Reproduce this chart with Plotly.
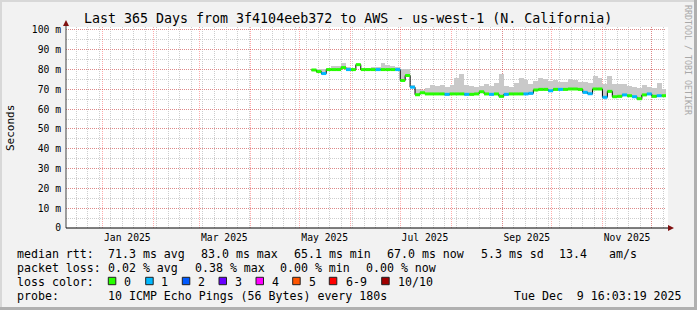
import plotly.graph_objects as go
import pandas as pd

# ---------------- data ----------------
bin_start = "2025-05-08"
bin_days = 3
median_ms = [79.8, 79.0, 78.0, 80.0, 80.0, 80.0, 81.0, 80.0, 80.0, 82.5,
             80.0, 80.0, 80.0, 80.0, 80.0, 80.0, 80.0, 80.0, 74.5, 77.0,
             71.1, 67.3, 68.3, 67.7, 67.7, 67.7, 67.7, 67.5, 67.7, 67.7,
             67.7, 67.5, 67.5, 67.7, 68.8, 67.7, 67.5, 67.7, 66.5, 67.5,
             67.7, 67.7, 67.7, 67.7, 68.0, 69.7, 70.0, 70.0, 69.3, 70.0,
             70.0, 70.0, 70.2, 70.2, 70.0, 68.5, 67.8, 70.2, 70.2, 66.0,
             69.0, 66.3, 66.5, 67.2, 66.8, 66.3, 65.3, 67.2, 67.7, 66.5,
             66.8, 66.8]
smoke_top_ms = [80.3, 80.3, 80.5, 80.8, 81.7, 82.0, 83.5, 81.5, 81.0, 82.8,
                80.8, 81.0, 81.2, 81.5, 83.5, 82.3, 82.0, 81.5, 80.3, 80.3,
                72.0, 70.0, 69.5, 70.5, 72.0, 71.5, 72.3, 71.0, 72.0, 75.5,
                78.0, 72.0, 71.5, 71.0, 71.5, 72.5, 71.5, 73.0, 77.8, 71.5,
                71.0, 73.0, 75.5, 74.5, 72.5, 74.0, 76.0, 75.0, 74.0, 74.5,
                73.5, 73.5, 75.0, 74.5, 73.5, 73.5, 73.0, 77.0, 76.0, 72.5,
                77.0, 72.5, 72.8, 72.5, 71.5, 71.0, 70.5, 72.0, 71.0, 70.5,
                73.0, 70.0]
loss_count = [0, 0, 1, 0, 0, 0, 0, 1, 0, 0,
              0, 0, 0, 1, 0, 0, 0, 1, 0, 0,
              1, 0, 0, 0, 0, 0, 0, 1, 0, 0,
              0, 1, 0, 0, 0, 0, 1, 0, 0, 1,
              0, 0, 0, 1, 1, 0, 0, 0, 1, 0,
              1, 0, 0, 0, 0, 1, 1, 0, 0, 1,
              0, 0, 0, 1, 0, 1, 0, 0, 1, 0,
              1, 0]

x_start = "2024-12-09 16:03:19"
x_end = "2025-12-09 16:03:19"
month_ticks = ["2025-01-01", "2025-02-01", "2025-03-01", "2025-04-01", "2025-05-01",
               "2025-06-01", "2025-07-01", "2025-08-01", "2025-09-01", "2025-10-01",
               "2025-11-01", "2025-12-01"]
label_ticks = ["2025-01-16", "2025-03-16", "2025-05-16", "2025-07-16", "2025-09-16", "2025-11-16"]
label_text = ["Jan 2025", "Mar 2025", "May 2025", "Jul 2025", "Sep 2025", "Nov 2025"]
y_ticks = [0, 10, 20, 30, 40, 50, 60, 70, 80, 90, 100]
y_text = ["0", "10 m", "20 m", "30 m", "40 m", "50 m", "60 m", "70 m", "80 m", "90 m", "100 m"]

loss_labels = ["0", "1", "2", "3", "4", "5", "6-9", "10/10"]
loss_colors = ["#26ff00", "#00b8ff", "#0059ff", "#6a00ff", "#ff00ff", "#ff5500", "#ff0000", "#a10000"]

title_text = "Last 365 Days from 3f4104eeb372 to AWS - us-west-1 (N. California)"
legend_rtt = ["median rtt:", "71.3 ms avg", "83.0 ms max", "65.1 ms min", "67.0 ms now", "5.3 ms sd", "13.4", "am/s"]
legend_loss = ["packet loss:", "0.02 % avg", "0.38 % max", "0.00 % min", "0.00 % now"]
legend_probe = ["probe:", "10 ICMP Echo Pings (56 Bytes) every 180s", "Tue Dec\u00a0 9 16:03:19 2025"]

# ---------------- geometry helpers ----------------
W, H = 697, 310
L, R, T, B = 66, 666, 27, 228
PW, PH = R - L, B - T
FONT = "DejaVu Sans Mono"


def px(X):
    return (X - L) / PW


def py(Y):
    return (B - Y) / PH


starts = pd.date_range(bin_start, periods=len(median_ms), freq=f"{bin_days}D")
step = pd.Timedelta(days=bin_days)
centers = starts + step / 2

fig = go.Figure()

# smoke
low = [m - 0.6 for m in median_ms]
fig.add_trace(go.Bar(
    x=centers, base=low, y=[t - lo for t, lo in zip(smoke_top_ms, low)],
    width=bin_days * 86400000, marker=dict(color="#c9c9c9", line=dict(width=0)),
    showlegend=False, hoverinfo="skip"))

# black median step line
fig.add_trace(go.Scatter(
    x=list(starts) + [starts[-1] + step], y=median_ms + [median_ms[-1]],
    mode="lines", line=dict(color="#000000", width=1, shape="hv"),
    showlegend=False, hoverinfo="skip"))

# coloured median segments by loss
for lvl in sorted(set(loss_count)):
    xs, ys = [], []
    for s, m, lc in zip(starts, median_ms, loss_count):
        if lc == lvl:
            xs += [s, s + step, None]
            ys += [m, m, None]
    fig.add_trace(go.Scatter(x=xs, y=ys, mode="lines",
                             line=dict(color=loss_colors[lvl], width=3),
                             showlegend=False, hoverinfo="skip"))

# dummy trace for label axis
fig.add_trace(go.Scatter(x=[label_ticks[0]], y=[0], xaxis="x2", mode="markers",
                         marker=dict(opacity=0), showlegend=False, hoverinfo="skip"))

red_grid = "rgba(255,0,0,0.33)"
grey_grid = "#cdcdcd"

fig.update_layout(
    width=W, height=H,
    margin=dict(l=L, r=W - R, t=T, b=H - B, pad=0),
    paper_bgcolor="#f2f2f2", plot_bgcolor="#ffffff",
    font=dict(family=FONT, color="#000000"),
    bargap=0,
    xaxis=dict(type="date", range=[x_start, x_end], tickmode="array", tickvals=month_ticks,
               showticklabels=False, ticks="", showgrid=True, gridcolor=red_grid,
               griddash="1px,1px", gridwidth=1, zeroline=False, showline=False,
               minor=dict(tickmode="linear", tick0="2024-12-16", dtick=7 * 86400000,
                          showgrid=True, gridcolor=grey_grid, griddash="1px,1px", ticks="")),
    xaxis2=dict(type="date", range=[x_start, x_end], overlaying="x", anchor="y", side="bottom",
                tickmode="array", tickvals=label_ticks, ticktext=label_text, showgrid=False,
                ticks="", zeroline=False, showline=False, ticklabelstandoff=2,
                tickfont=dict(family=FONT, size=9.7, color="#000000")),
    yaxis=dict(range=[0, 101.5], tickmode="array", tickvals=y_ticks, ticktext=y_text,
               showgrid=True, gridcolor=red_grid, griddash="1px,1px", gridwidth=1,
               zeroline=False, showline=False, ticks="", ticklabelstandoff=4,
               tickfont=dict(family=FONT, size=9.7, color="#000000"),
               minor=dict(tickmode="linear", tick0=0, dtick=5, showgrid=True,
                          gridcolor=grey_grid, griddash="1px,1px", ticks="")),
)

shapes = []
# white extension of the canvas to the right
shapes.append(dict(type="rect", xref="paper", yref="paper", x0=px(666), x1=px(668), y0=0, y1=1,
                   fillcolor="#ffffff", line=dict(width=0), layer="below"))
# axis lines
shapes.append(dict(type="line", xref="paper", yref="paper", x0=0, x1=0, y0=0, y1=py(22),
                   line=dict(color="#404040", width=1), layer="above"))
shapes.append(dict(type="line", xref="paper", yref="paper", x0=0, x1=px(670), y0=0, y1=0,
                   line=dict(color="#000000", width=1), layer="above"))
# arrows
arrow_col = "#7f1010"
shapes.append(dict(type="path", xref="paper", yref="paper",
                   path=f"M {px(66)},{py(20)} L {px(63)},{py(26)} L {px(69)},{py(26)} Z",
                   fillcolor=arrow_col, line=dict(color=arrow_col, width=0), layer="above"))
shapes.append(dict(type="path", xref="paper", yref="paper",
                   path=f"M {px(674)},{py(228)} L {px(668)},{py(225)} L {px(668)},{py(231)} Z",
                   fillcolor=arrow_col, line=dict(color=arrow_col, width=0), layer="above"))
# image border (3d look)
shapes.append(dict(type="rect", xref="paper", yref="paper", x0=px(0), x1=px(2), y0=py(0), y1=py(310),
                   fillcolor="#d8d8d8", line=dict(width=0)))
shapes.append(dict(type="rect", xref="paper", yref="paper", x0=px(0), x1=px(697), y0=py(0), y1=py(2),
                   fillcolor="#d8d8d8", line=dict(width=0)))
shapes.append(dict(type="rect", xref="paper", yref="paper", x0=px(694), x1=px(697), y0=py(0), y1=py(310),
                   fillcolor="#b0b0b0", line=dict(width=0)))
shapes.append(dict(type="rect", xref="paper", yref="paper", x0=px(0), x1=px(697), y0=py(307), y1=py(310),
                   fillcolor="#b0b0b0", line=dict(width=0)))

annotations = []


def ann(text, X, Y, size=11.6, xanchor="left", color="#000000", angle=0):
    annotations.append(dict(text=text, x=px(X), y=py(Y), xref="paper", yref="paper",
                            xanchor=xanchor, yanchor="middle", showarrow=False,
                            textangle=angle, borderpad=0,
                            font=dict(family=FONT, size=size, color=color)))


ann(title_text, 348.2, 18.5, size=13.3, xanchor="center")
ann("Seconds", 10, 128, size=11.0, xanchor="center", angle=-90)
ann("RRDTOOL / TOBI OETIKER", 688, 60, size=8.3, xanchor="center", color="#a8a8a8", angle=90)

rtt_x = [16, 107.3, 200.3, 293.3, 386, 480, 558.3, 607.7]
for t, X in zip(legend_rtt, rtt_x):
    ann(t, X, 254)
loss_x = [16, 107.3, 194, 279.3, 365]
for t, X in zip(legend_loss, loss_x):
    ann(t, X, 268.3)
ann("loss color:", 16, 281.7)
box_x = [108.3, 145.7, 182.3, 219, 256, 292.7, 329.3, 381.7]
lab_x = [123.3, 160, 197.3, 234.3, 271, 308.3, 344.7, 396.7]
for lab, col, bx, lx in zip(loss_labels, loss_colors, box_x, lab_x):
    shapes.append(dict(type="rect", xref="paper", yref="paper", x0=px(bx), x1=px(bx + 7.5),
                       y0=py(284.7), y1=py(277.3), fillcolor=col,
                       line=dict(color="#202020", width=1)))
    ann(lab, lx, 281.7)
probe_x = [16, 107.3, 513.3]
for t, X in zip(legend_probe, probe_x):
    ann(t, X, 296)

fig.update_layout(shapes=shapes, annotations=annotations)
fig.write_html("out.html")
